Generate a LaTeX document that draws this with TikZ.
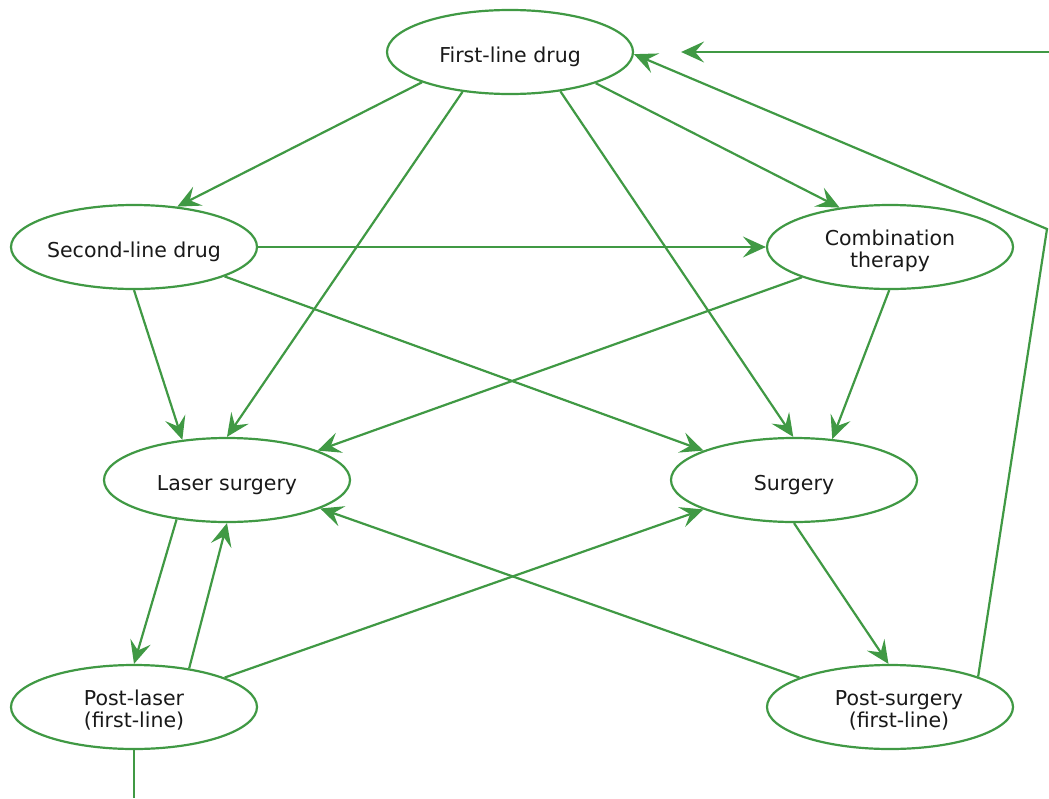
\documentclass[tikz,border=0pt]{standalone}
\usepackage{fontspec}
\setmainfont{DejaVu Sans}
\usetikzlibrary{shapes.geometric,arrows.meta}
\definecolor{edgegreen}{RGB}{64,153,68}
\begin{document}
\begin{tikzpicture}[x=1pt,y=-1pt,
  state/.style={ellipse,draw=edgegreen,line width=2.2pt,fill=white,
    minimum width=246pt,minimum height=84pt,inner sep=0pt,align=center,
    text height=20pt,text depth=0pt,font=\fontsize{20.5}{22}\selectfont,
    text=black!90},
  twoline/.style={text height=40pt},
  link/.style={draw=edgegreen,line width=2.2pt,
    -{Stealth[length=23pt,width=21pt,inset=9pt]}},
  plain/.style={draw=edgegreen,line width=2.2pt}]
\useasboundingbox (0,0) rectangle (1049,798);

% treatment states
\node[state] (fl) at (510,52)  {First-line drug};
\node[state] (sl) at (134,247) {Second-line drug};
\node[state,twoline] (ct) at (890,247) {Combination\\therapy};
\node[state] (ls) at (227,480) {Laser surgery};
\node[state] (su) at (794,480) {Surgery};
\node[state,twoline] (pl) at (134,707) {Post-laser\\(first-line)};
\node[state,twoline] (ps) at (890,707)
  {\hspace*{18pt}Post-surgery\\\hspace*{18pt}(first-line)};

% free ends and the bend on the return path
\coordinate (entry) at (1049,52);
\coordinate (exit) at (134,798);
\coordinate (bend) at (1047,229);

% transitions
\draw[link] (fl.199.4) -- (sl.43);
\draw[link] (fl.220.7) -- (ls.90);
\draw[link] (fl.-38)   -- (su.91);
\draw[link] (fl.-20)   -- (ct.142.5);
\draw[link] (sl.0)     -- (ct.180);
\draw[link] (sl.270)   -- (ls.138.2);
\draw[link] (sl.-18.8) -- (su.162.3);
\draw[link] (ct.199.6) -- (ls.18.4);
\draw[link] (ct.269)   -- (su.47.1);
\draw[link] (ls.218.5) -- (pl.90);
\draw[link] (pl.35.3)  -- (ls.270);
\draw[link] (pl.18.6)  -- (su.198.4);
\draw[link] (ps.162.2) -- (ls.-17.7);
\draw[link] (su.270)   -- (ps.92.7);
\draw[link] (ps.19.6)  -- (bend) -- (fl.-1.4);
\draw[link,shorten >=47pt] (entry) -- (fl.0);
\draw[plain] (pl.270) -- (exit);
\end{tikzpicture}
\end{document}
